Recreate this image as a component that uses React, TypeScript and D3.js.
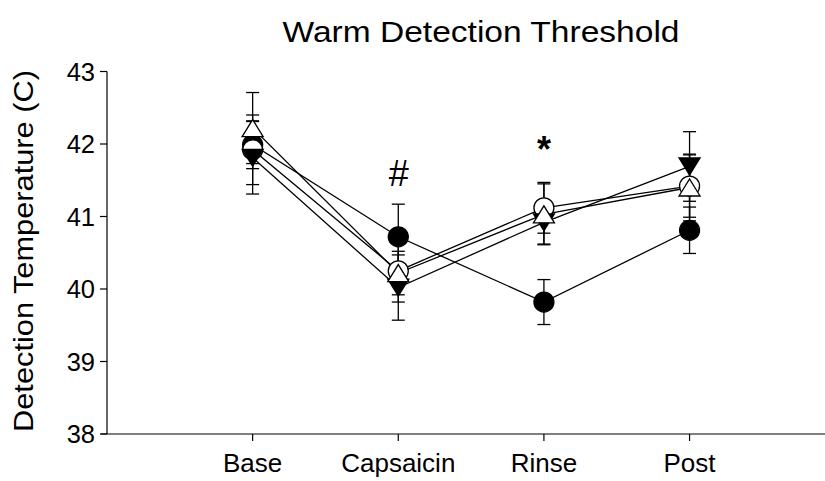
import React from "react";
import * as d3 from "d3";

const categories = ["Base", "Capsaicin", "Rinse", "Post"];
const yTicks = [38, 39, 40, 41, 42, 43];

const filledCircle = [41.99, 40.72, 39.82, 40.81];
const filledCircleErr = [0.33, 0.45, 0.31, 0.32];
const openCircle = [41.92, 40.25, 41.12, 41.42];
const openCircleErr = [0.48, 0.43, 0.35, 0.43];
const filledTriDown = [41.81, 40.02, 40.92, 41.69];
const filledTriDownErr = [0.5, 0.45, 0.3, 0.48];
const openTriUp = [42.22, 40.22, 41.03, 41.4];
const openTriUpErr = [0.49, 0.3, 0.42, 0.46];

const annotations = [
  { cat: 1, text: "#", y: 41.42, italic: true, bold: false },
  { cat: 2, text: "*", y: 41.75, italic: false, bold: true },
];

type Series = { values: number[]; err: number[]; shape: "circle" | "triDown" | "triUp"; fill: string };

const series: Series[] = [
  { values: filledCircle, err: filledCircleErr, shape: "circle", fill: "#000" },
  { values: openCircle, err: openCircleErr, shape: "circle", fill: "#fff" },
  { values: filledTriDown, err: filledTriDownErr, shape: "triDown", fill: "#000" },
  { values: openTriUp, err: openTriUpErr, shape: "triUp", fill: "#fff" },
];

const W = 825;
const H = 481;
const FONT = "'Liberation Sans', Arial, Helvetica, sans-serif";

export default function App() {
  const x = d3.scaleLinear().domain([0, 4.93]).range([107, 825]);
  const y = d3.scaleLinear().domain([38, 43]).range([434, 71.5]);
  const line = d3
    .line<number>()
    .x((_, i) => x(i + 1))
    .y((d) => y(d));

  const marker = (s: Series, v: number, i: number, k: string) => {
    const cx = x(i + 1);
    const cy = y(v);
    if (s.shape === "circle") {
      return <circle key={k} cx={cx} cy={cy} r={10} fill={s.fill} stroke="#000" strokeWidth={1.3} />;
    }
    const hw = 10.5;
    const h = 17;
    if (s.shape === "triDown") {
      const pts = `${cx - hw},${cy - h / 2} ${cx + hw},${cy - h / 2} ${cx},${cy + h / 2}`;
      return <polygon key={k} points={pts} fill={s.fill} stroke="#000" strokeWidth={1.3} />;
    }
    const pts = `${cx - hw},${cy + h / 2} ${cx + hw},${cy + h / 2} ${cx},${cy - h / 2}`;
    return <polygon key={k} points={pts} fill={s.fill} stroke="#000" strokeWidth={1.3} />;
  };

  return (
    <svg width={W} height={H} style={{ position: "absolute", left: 0, top: 0, background: "#fff" }}>
      <rect x={0} y={0} width={W} height={H} fill="#fff" />
      <text
        x={481}
        y={42}
        textAnchor="middle"
        fontFamily={FONT}
        fontSize={29}
        textLength={397}
        lengthAdjust="spacingAndGlyphs"
        fill="#000"
      >
        Warm Detection Threshold
      </text>
      <text
        transform={`translate(33,${(70 + 432) / 2}) rotate(-90)`}
        textAnchor="middle"
        fontFamily={FONT}
        fontSize={27}
        textLength={362}
        lengthAdjust="spacingAndGlyphs"
        fill="#000"
      >
        Detection Temperature (C)
      </text>
      {/* axes */}
      <line x1={x(0)} x2={x(0)} y1={y(43)} y2={y(38)} stroke="#000" strokeWidth={1.2} />
      <line x1={x(0) - 6} x2={825} y1={y(38)} y2={y(38)} stroke="#000" strokeWidth={1.2} />
      {yTicks.map((t) => (
        <g key={t}>
          <line x1={x(0) - 7} x2={x(0)} y1={y(t)} y2={y(t)} stroke="#000" strokeWidth={1.2} />
          <text x={x(0) - 12} y={y(t)} dy="0.36em" textAnchor="end" fontFamily={FONT} fontSize={25.5} fill="#000">
            {t}
          </text>
        </g>
      ))}
      {categories.map((c, i) => (
        <g key={c}>
          <line x1={x(i + 1)} x2={x(i + 1)} y1={y(38)} y2={y(38) + 7} stroke="#000" strokeWidth={1.2} />
          <text x={x(i + 1)} y={472} textAnchor="middle" fontFamily={FONT} fontSize={26} fill="#000">
            {c}
          </text>
        </g>
      ))}
      {/* lines */}
      {series.map((s, si) => (
        <path key={"l" + si} d={line(s.values) || ""} fill="none" stroke="#000" strokeWidth={1.3} />
      ))}
      {/* error bars */}
      {series.map((s, si) =>
        s.values.map((v, i) => {
          const cx = x(i + 1);
          const t = y(v + s.err[i]);
          const b = y(v - s.err[i]);
          return (
            <g key={"e" + si + "-" + i} stroke="#000" strokeWidth={1.3}>
              <line x1={cx} x2={cx} y1={t} y2={b} />
              <line x1={cx - 6.5} x2={cx + 6.5} y1={t} y2={t} />
              <line x1={cx - 6.5} x2={cx + 6.5} y1={b} y2={b} />
            </g>
          );
        })
      )}
      {/* markers */}
      {series.map((s, si) => s.values.map((v, i) => marker(s, v, i, "m" + si + "-" + i)))}
      {annotations.map((a, i) => (
        <text
          key={"a" + i}
          x={x(a.cat + 1)}
          y={y(a.y)}
          textAnchor="middle"
          fontFamily={FONT}
          fontSize={36}
          fontStyle={a.italic ? "italic" : "normal"}
          fontWeight={a.bold ? "bold" : "normal"}
          fill="#000"
        >
          {a.text}
        </text>
      ))}
    </svg>
  );
}
